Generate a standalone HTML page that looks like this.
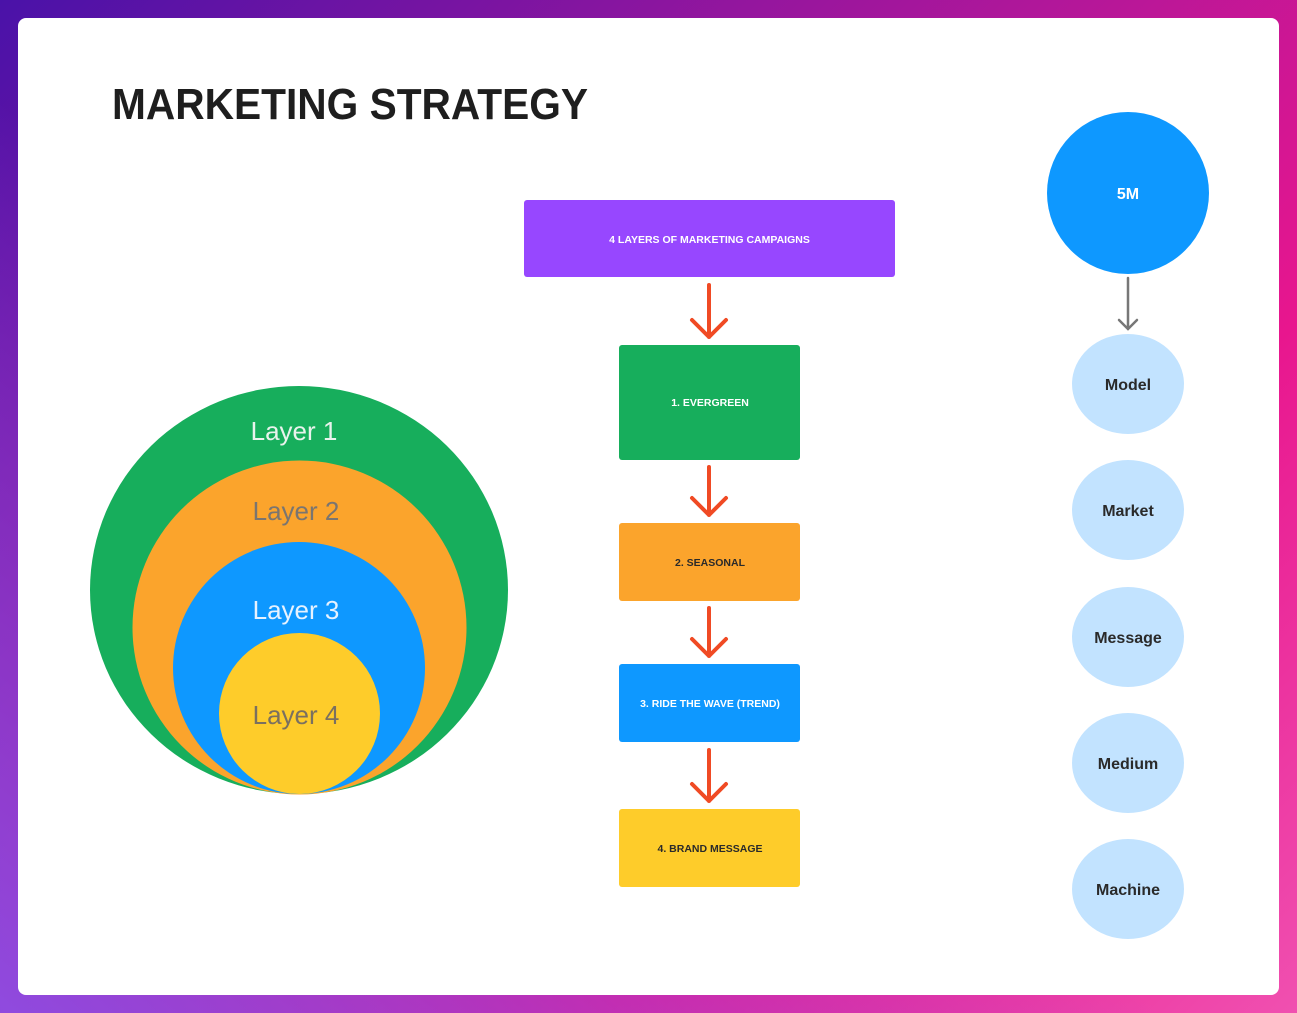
<!DOCTYPE html>
<html><head><meta charset="utf-8"><style>
html,body{margin:0;padding:0;width:1297px;height:1013px;overflow:hidden}
body{background:linear-gradient(135deg,#4a12a8 0%,#b0179a 45%,#e8168e 70%,#f050b0 100%);position:relative}
.bg2{position:absolute;inset:0;background:linear-gradient(to top right,rgba(140,80,230,0.9) 0%,rgba(140,80,230,0) 45%)}
svg{position:absolute;left:0;top:0}
text{font-family:"Liberation Sans",sans-serif}
</style></head><body><div class="bg2"></div>
<svg width="1297" height="1013" viewBox="0 0 1297 1013">
<rect x="18" y="18" width="1261" height="977" rx="8" fill="#fff"/>
<text x="112" y="119" font-size="44" font-weight="bold" fill="#1e1e1e" textLength="476" lengthAdjust="spacingAndGlyphs">MARKETING STRATEGY</text>
<ellipse cx="299" cy="590" rx="209" ry="204" fill="#17ae5c"/>
<circle cx="299.5" cy="627.5" r="167" fill="#fba42c"/>
<circle cx="299" cy="668" r="126" fill="#0e98ff"/>
<circle cx="299.5" cy="713.5" r="80.5" fill="#fecc2a"/>
<g font-size="26" text-anchor="middle">
<text x="294" y="440" fill="#e8f3ec">Layer 1</text>
<text x="296" y="520" fill="#7a7570">Layer 2</text>
<text x="296" y="619" fill="#e6f2ff">Layer 3</text>
<text x="296" y="724" fill="#7a7060">Layer 4</text>
</g>
<rect x="524" y="200" width="371" height="77" rx="3" fill="#9747ff"/>
<rect x="619" y="345" width="181" height="115" rx="3" fill="#17ae5c"/>
<rect x="619" y="523" width="181" height="78" rx="3" fill="#fba42c"/>
<rect x="619" y="664" width="181" height="78" rx="3" fill="#0e98ff"/>
<rect x="619" y="809" width="181" height="78" rx="3" fill="#fecc2a"/>
<g font-size="10.5" font-weight="bold" text-anchor="middle">
<text x="709.5" y="243" fill="#fff">4 LAYERS OF MARKETING CAMPAIGNS</text>
<text x="710" y="406" fill="#fff">1.  EVERGREEN</text>
<text x="710" y="566" fill="#2a2a2a">2. SEASONAL</text>
<text x="710" y="707" fill="#fff">3. RIDE THE WAVE (TREND)</text>
<text x="710" y="852" fill="#2a2a2a">4. BRAND MESSAGE</text>
</g>
<g stroke="#f04a24" stroke-width="4" fill="none" stroke-linecap="round" stroke-linejoin="round">
<path d="M709 285V337M692 320L709 337L726 320"/>
<path d="M709 467V515M692 498L709 515L726 498"/>
<path d="M709 608V656M692 639L709 656L726 639"/>
<path d="M709 750V801M692 784L709 801L726 784"/>
</g>
<circle cx="1128" cy="193" r="81" fill="#0e98ff"/>
<text x="1128" y="199" font-size="16" font-weight="bold" fill="#fff" text-anchor="middle">5M</text>
<g stroke="#777" stroke-width="2.5" fill="none" stroke-linecap="round"><path d="M1128 278V329M1119 320L1128 329L1137 320"/></g>
<g fill="#c2e3ff"><ellipse cx="1128" cy="384" rx="56" ry="50"/><ellipse cx="1128" cy="510" rx="56" ry="50"/><ellipse cx="1128" cy="637" rx="56" ry="50"/><ellipse cx="1128" cy="763" rx="56" ry="50"/><ellipse cx="1128" cy="889" rx="56" ry="50"/></g>
<g font-size="16" font-weight="bold" fill="#2a2a2a" text-anchor="middle">
<text x="1128" y="390">Model</text><text x="1128" y="516">Market</text><text x="1128" y="643">Message</text><text x="1128" y="769">Medium</text><text x="1128" y="895">Machine</text>
</g>
</svg></body></html>
